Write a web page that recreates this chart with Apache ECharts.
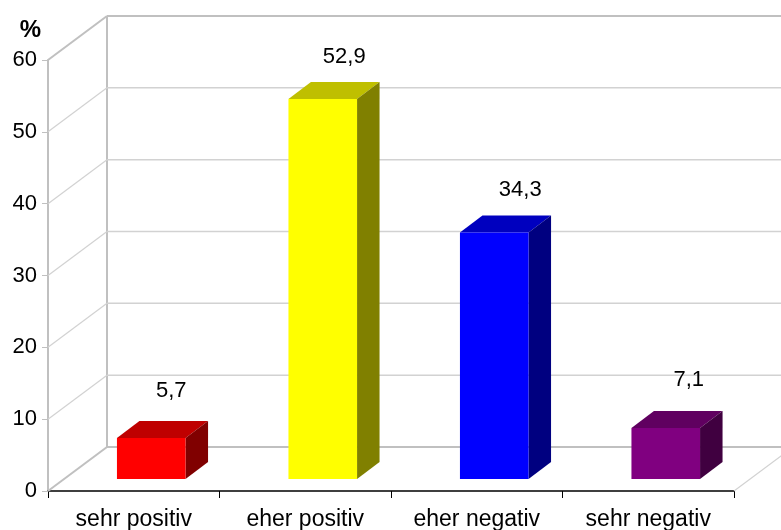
<!DOCTYPE html>
<html>
<head>
<meta charset="utf-8">
<style>html,body{margin:0;padding:0;background:#fff}#c{width:781px;height:530px}</style>
<script src="https://cdn.jsdelivr.net/npm/echarts@6/dist/echarts.min.js"></script>
</head>
<body>
<div id="c"></div>
<script>
var categories = ['sehr positiv', 'eher positiv', 'eher negativ', 'sehr negativ'];
var values = [5.7, 52.9, 34.3, 7.1];
var yTicks = [0, 10, 20, 30, 40, 50, 60];
var frontColors = ['#ff0000', '#ffff00', '#0000ff', '#800080'];
var topColors = ['#bf0000', '#bfbf00', '#0000bf', '#600060'];
var sideColors = ['#800000', '#808000', '#000080', '#400040'];

var FONT = '"Liberation Sans", Arial, sans-serif';
var WALL_DX = 59, WALL_DY = -44;      // depth of the chart box
var BAR_DX = 22.5, BAR_DY = -17;      // depth of a bar
var FLOOR_X = 17.5, FLOOR_Y = -12;    // where the bars stand on the floor
var BAR_FRACTION = 0.4;
var GRID_GREY = '#d2d2d2', WALL_GREY = '#c0c0c0';
var LABEL_DX = [20, 21.5, 26, 23], LABEL_DY = [-47, -42, -43, -48];  // value label placement per bar

var chart = echarts.init(document.getElementById('c'), null, {renderer: 'canvas'});

function line(x1, y1, x2, y2, stroke, w) {
  return {type: 'line', shape: {x1: x1, y1: y1, x2: x2, y2: y2},
          style: {stroke: stroke, lineWidth: w}};
}

function renderWall(params, api) {
  var v = api.value(0);
  var band = api.size([1, 0])[0];
  var y = api.coord([0, v])[1];
  var xL = api.coord([0, v])[0] - band / 2;
  var xR = api.coord([categories.length - 1, v])[0] + band / 2;
  var edge = v === yTicks[0] || v === yTicks[yTicks.length - 1];
  var stroke = edge ? WALL_GREY : GRID_GREY;
  var w = edge ? 2 : 1.2;
  var kids = [
    line(xL + WALL_DX, y + WALL_DY, xR + WALL_DX, y + WALL_DY, stroke, edge ? 2 : 1.5),
    line(xL, y, xL + WALL_DX, y + WALL_DY, stroke, w)
  ];
  if (v === yTicks[0]) {
    kids.push(line(xR, y, xR + WALL_DX, y + WALL_DY, GRID_GREY, 1.2));
    var yTop = api.coord([0, yTicks[yTicks.length - 1]])[1];
    kids.push(line(xL + WALL_DX, y + WALL_DY, xL + WALL_DX, yTop + WALL_DY, WALL_GREY, 2));
  }
  return {type: 'group', children: kids};
}

function renderBar(params, api) {
  var i = api.value(0), v = api.value(1);
  var base = api.coord([i, 0]);
  var head = api.coord([i, v]);
  var w = api.size([1, 0])[0] * BAR_FRACTION;
  var x0 = base[0] + FLOOR_X - w / 2, x1 = x0 + w;
  var yB = base[1] + FLOOR_Y, yT = head[1] + FLOOR_Y;
  function poly(points, fill) {
    return {type: 'polygon', shape: {points: points}, style: {fill: fill}};
  }
  return {type: 'group', children: [
    poly([[x0, yT], [x0 + BAR_DX, yT + BAR_DY], [x1 + BAR_DX, yT + BAR_DY], [x1, yT]], topColors[i]),
    poly([[x1, yB], [x1 + BAR_DX, yB + BAR_DY], [x1 + BAR_DX, yT + BAR_DY], [x1, yT]], sideColors[i]),
    poly([[x0, yB], [x1, yB], [x1, yT], [x0, yT]], frontColors[i]),
    {type: 'text', style: {
      x: (x0 + x1) / 2 + LABEL_DX[i], y: yT + LABEL_DY[i],
      text: String(v).replace('.', ','),
      font: '22px ' + FONT, fill: '#000', align: 'center', verticalAlign: 'middle'
    }}
  ]};
}

chart.setOption({
  animation: false,
  backgroundColor: '#fff',
  grid: {left: 48, right: 47, top: 60, bottom: 39, outerBoundsMode: 'none'},
  xAxis: {
    type: 'category',
    data: categories,
    axisLine: {lineStyle: {color: '#000', width: 1.5}},
    axisTick: {show: true, length: 7, lineStyle: {color: '#000', width: 1}},
    axisLabel: {color: '#000', fontSize: 23, fontFamily: FONT, margin: 17, interval: 0},
    splitLine: {show: false}
  },
  yAxis: {
    type: 'value', min: 0, max: 60, interval: 10,
    name: '%', nameLocation: 'end', nameGap: 18,
    nameTextStyle: {color: '#000', fontSize: 24, fontWeight: 'bold', fontFamily: FONT, align: 'right', padding: [0, 7, 0, 0]},
    axisLine: {show: true, lineStyle: {color: WALL_GREY, width: 2}},
    axisTick: {show: true, length: 6, lineStyle: {color: WALL_GREY, width: 1}},
    axisLabel: {color: '#000', fontSize: 22, fontFamily: FONT, margin: 11},
    splitLine: {show: false}
  },
  series: [
    {type: 'custom', coordinateSystem: 'cartesian2d', clip: false, z: 1, silent: true,
     renderItem: renderWall, encode: {x: 1, y: 0},
     data: yTicks.map(function (t) { return [t, 0]; })},
    {type: 'custom', coordinateSystem: 'cartesian2d', clip: false, z: 3, silent: true,
     renderItem: renderBar, encode: {x: 0, y: 1},
     data: values.map(function (v, i) { return [i, v]; })}
  ]
});
</script>
</body>
</html>
